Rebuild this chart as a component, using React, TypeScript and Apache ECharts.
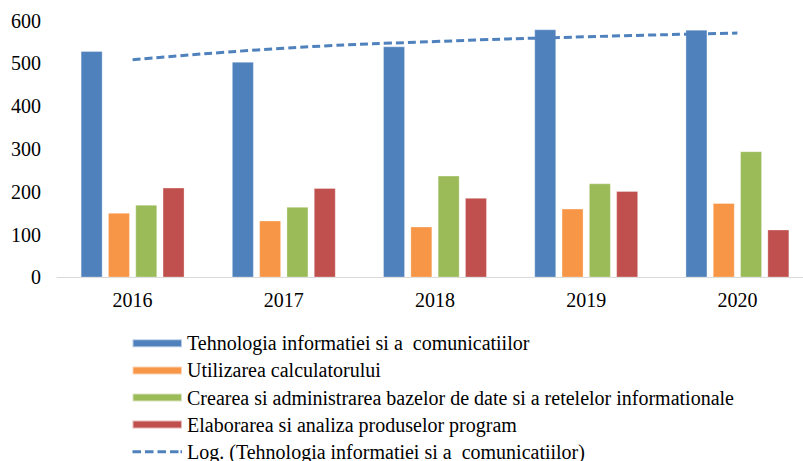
import React, { useEffect, useRef } from "react";
import * as echarts from "echarts";

const categories = ["2016", "2017", "2018", "2019", "2020"];
const seriesNames = [
  "Tehnologia informatiei si a  comunicatiilor",
  "Utilizarea calculatorului",
  "Crearea si administrarea bazelor de date si a retelelor informationale",
  "Elaborarea si analiza produselor program",
];
const tehnologia = [528, 503, 539, 579, 578];
const utilizarea = [150, 132, 118, 160, 173];
const crearea = [169, 164, 237, 219, 294];
const elaborarea = [209, 208, 185, 201, 111];
const trendName = "Log. (Tehnologia informatiei si a  comunicatiilor)";
const colors = ["#4f81bd", "#f79646", "#9bbb59", "#c0504d"];

// logarithmic regression trendline of the first series (as in Excel)
function logTrend(values: number[]): number[] {
  const xs = values.map((_, i) => Math.log(i + 1));
  const n = values.length;
  const mx = xs.reduce((a, b) => a + b, 0) / n;
  const my = values.reduce((a, b) => a + b, 0) / n;
  let cov = 0;
  let vr = 0;
  xs.forEach((x, i) => {
    cov += (x - mx) * (values[i] - my);
    vr += (x - mx) * (x - mx);
  });
  const b = cov / vr;
  const a = my - b * mx;
  return xs.map((x) => +(a + b * x).toFixed(2));
}

const dashIcon =
  "path://M0 0h0.01v0.01h-0.01z M0 2.5h8.5v3h-8.5z M12.5 2.5h8.5v3h-8.5z M25 2.5h8.5v3h-8.5z M37.5 2.5h8.5v3h-8.5z M48 2.5h1.5v3h-1.5z M49.49 7.99h0.01v0.01h-0.01z";

export default function App() {
  const ref = useRef<HTMLDivElement>(null);
  useEffect(() => {
    const chart = echarts.init(ref.current!, null, { renderer: "svg" });
    const font = "Liberation Serif";
    const data = [tehnologia, utilizarea, crearea, elaborarea];
    const bars = data.map((d, i) => ({
      name: seriesNames[i],
      type: "bar",
      data: d,
      barWidth: 21.5,
      barGap: "27%",
      itemStyle: { color: colors[i], borderColor: "rgba(255,255,255,0.6)", borderWidth: 0.5 },
    }));
    chart.setOption({
      animation: false,
      grid: {
        left: 57,
        top: 20.5,
        width: 756,
        height: 256.8,
        containLabel: false,
        outerBoundsMode: "none",
      },
      xAxis: {
        type: "category",
        data: categories,
        axisLine: { show: true, lineStyle: { color: "#d9d9d9", width: 1 } },
        axisTick: { show: false },
        axisLabel: { fontFamily: font, fontSize: 20, color: "#000", margin: 13 },
      },
      yAxis: {
        type: "value",
        min: 0,
        max: 600,
        interval: 100,
        axisLine: { show: false },
        axisTick: { show: false },
        splitLine: { show: false },
        axisLabel: { fontFamily: font, fontSize: 20, color: "#000", margin: 16 },
      },
      legend: {
        orient: "vertical",
        left: 131.5,
        top: 333.3,
        height: 140,
        padding: 0,
        itemWidth: 49.5,
        itemHeight: 8,
        itemGap: 7.1,
        textStyle: { fontFamily: font, fontSize: 20, color: "#000", lineHeight: 20 },
        data: [
          { name: seriesNames[0], icon: "rect" },
          { name: seriesNames[1], icon: "rect" },
          { name: seriesNames[2], icon: "rect" },
          { name: seriesNames[3], icon: "rect" },
          { name: trendName, icon: dashIcon, itemStyle: { color: "#4f81bd" } },
        ],
      },
      series: [
        ...bars,
        {
          name: trendName,
          type: "line",
          data: logTrend(tehnologia),
          smooth: true,
          symbol: "none",
          showSymbol: false,
          z: 5,
          lineStyle: { color: "#4f81bd", width: 3, type: [8, 4] },
          itemStyle: { color: "#4f81bd" },
        },
      ],
    });
    return () => chart.dispose();
  }, []);
  return (
    <div
      ref={ref}
      style={{ position: "fixed", left: 0, top: 0, width: 803, height: 461, background: "#fff" }}
    />
  );
}
